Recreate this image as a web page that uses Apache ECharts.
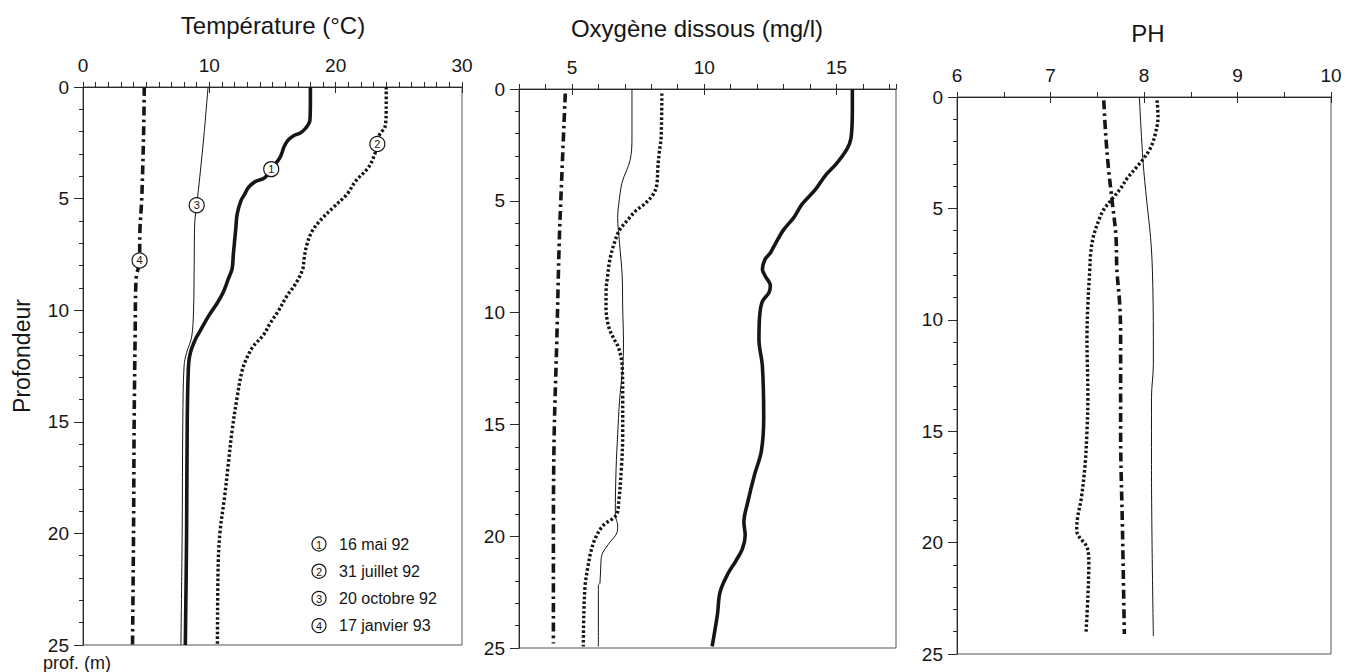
<!DOCTYPE html>
<html><head><meta charset="utf-8">
<script src="https://cdn.jsdelivr.net/npm/echarts@6/dist/echarts.min.js"></script>
<style>html,body{margin:0;padding:0;background:#fff}#c{width:1345px;height:672px}</style>
</head><body><div id="c"></div>
<script>
// ---------- text / labels ----------
const seriesNames = ['16 mai 92', '31 juillet 92', '20 octobre 92', '17 janvier 93'];
const seriesMarks = ['1', '2', '3', '4'];
const panelTitles = ['Température (°C)', 'Oxygène dissous (mg/l)', 'PH'];
const depthTickLabels = [0, 5, 10, 15, 20, 25];
const tempTickLabels = [0, 10, 20, 30];
const oxyTickLabels = [5, 10, 15];
const phTickLabels = [6, 7, 8, 9, 10];

// ---------- data : [value, depth (m)] ----------
const tempMai = [[18.0,0],[18.0,0.6],[17.96,1.5],[17.6,1.86],[17.2,2.06],[16.7,2.17],[16.2,2.4],[15.9,2.7],[15.6,3.15],[14.9,3.68],[14.4,4.06],[13.6,4.25],[13.1,4.5],[12.8,4.8],[12.5,5.1],[12.2,5.7],[12.1,6.3],[11.9,7.5],[11.8,8.15],[11.5,8.6],[11.1,9.2],[10.6,9.7],[9.9,10.3],[9.3,10.9],[8.9,11.3],[8.5,11.9],[8.35,12.5],[8.25,15],[8.2,20],[8.1,25]];
const tempJuillet = [[24.0,0],[24.0,1.0],[23.9,1.8],[23.5,2.1],[23.3,2.55],[23.1,3.0],[22.6,3.6],[21.6,4.2],[20.9,4.8],[19.8,5.4],[18.75,6.0],[18.1,6.5],[17.7,7.1],[17.5,7.7],[17.4,8.15],[16.9,8.75],[16.1,9.4],[15.5,10.0],[14.8,10.6],[14.3,11.1],[13.5,11.6],[13.0,12.1],[12.6,12.7],[12.2,13.9],[11.8,15.4],[11.5,16.9],[11.2,18.4],[10.85,19.9],[10.7,21.4],[10.64,25]];
const tempOctobre = [[9.9,0],[9.6,2],[9.25,4],[9.0,5.3],[8.85,6],[8.8,8],[8.75,10],[8.6,11.2],[8.2,11.9],[8.0,12.5],[7.9,15],[7.85,20],[7.75,25]];
const tempJanvier = [[4.85,0],[4.8,2],[4.65,5],[4.5,6.5],[4.48,7.77],[4.2,8.6],[4.13,11],[4.05,15],[4.0,20],[3.92,25]];
const tempMarkIndex = [9, 4, 3, 4]; // data point carrying the circled number

const oxyMai = [[15.6,0],[15.6,1.0],[15.55,2.19],[15.4,2.68],[15.0,3.34],[14.6,3.84],[14.2,4.5],[13.7,5.15],[13.4,5.73],[13.0,6.3],[12.7,6.9],[12.5,7.33],[12.3,7.62],[12.2,8.06],[12.3,8.35],[12.5,8.8],[12.45,9.1],[12.2,9.5],[12.1,10.1],[12.07,11.2],[12.2,12.4],[12.25,14.7],[12.16,16.2],[11.9,17.26],[11.65,18.46],[11.5,19.37],[11.55,19.97],[11.45,20.54],[11.2,21.1],[10.9,21.67],[10.6,22.5],[10.5,23.5],[10.3,24.93]];
const oxyJuillet = [[8.4,0.2],[8.37,2.19],[8.3,2.85],[8.25,3.5],[8.2,4.34],[8.05,4.75],[7.74,5.15],[7.42,5.44],[7.1,5.87],[6.8,6.31],[6.6,6.9],[6.44,7.6],[6.35,8.35],[6.29,9.08],[6.29,9.8],[6.4,10.67],[6.6,11.2],[6.77,11.6],[6.9,12.4],[6.92,13.9],[6.92,15.45],[6.87,16.96],[6.77,18.46],[6.67,19.07],[6.2,19.5],[5.9,20.05],[5.72,20.68],[5.6,21.4],[5.5,22.2],[5.45,23.5],[5.43,24.93]];
const oxyOctobre = [[7.27,0],[7.27,2.19],[7.2,3.18],[6.9,4.17],[6.77,5.15],[6.73,5.73],[6.8,6.9],[6.9,8.35],[6.92,9.8],[6.95,11.4],[6.92,12.44],[6.8,13.95],[6.73,15.45],[6.67,16.96],[6.64,19.07],[6.73,19.5],[6.7,19.85],[6.45,20.25],[6.16,20.75],[6.1,21.1],[6.06,22.1],[6.0,22.2],[6.0,24.93]];
const oxyJanvier = [[4.75,0.2],[4.62,3.84],[4.52,6.9],[4.43,11.2],[4.33,15.45],[4.3,19.97],[4.3,24.8]];

const phJuillet = [[8.14,0.15],[8.15,0.9],[8.12,1.67],[8.07,2.28],[8.0,2.74],[7.91,3.2],[7.82,3.65],[7.75,4.1],[7.66,4.57],[7.57,5.05],[7.52,5.5],[7.46,6.24],[7.43,7.0],[7.42,7.76],[7.4,9.28],[7.39,10.8],[7.4,13.5],[7.39,15],[7.37,16.5],[7.33,18.0],[7.29,18.87],[7.28,19.46],[7.31,19.76],[7.39,20.2],[7.41,20.95],[7.4,22.4],[7.38,24.0]];
const phOctobre = [[7.95,0],[7.99,2.9],[8.03,4.7],[8.07,6.3],[8.09,7.8],[8.1,10.8],[8.1,12],[8.08,13.5],[8.08,16.5],[8.1,24.2]];
const phJanvier = [[7.57,0.15],[7.59,1.67],[7.62,3.2],[7.66,4.7],[7.7,6.24],[7.71,7.76],[7.74,9.28],[7.75,10.8],[7.75,15],[7.77,19.46],[7.79,24.1]];

// ---------- styling ----------
const FONT = '"Liberation Sans", Arial, Helvetica, sans-serif';
const INK = '#161616';
const AX = '#2a2a2a';
const lineStyles = [
  { width: 3.6, type: 'solid' },
  { width: 3.4, type: [2.6, 2.2] },
  { width: 1, type: 'solid' },
  { width: 3.6, type: [9, 4, 2.6, 4] }
];

const panels = [
  { grid: { left: 83, top: 87, width: 379, height: 558 }, min: 0, max: 30, step: 1, labels: tempTickLabels,
    series: [tempMai, tempJuillet, tempOctobre, tempJanvier], marks: true },
  { grid: { left: 519, top: 89, width: 377, height: 559 }, min: 3, max: 17.25, step: 1, labels: oxyTickLabels,
    series: [oxyMai, oxyJuillet, oxyOctobre, oxyJanvier] },
  { grid: { left: 957, top: 97, width: 374, height: 557 }, min: 6, max: 10, step: 0.5, labels: phTickLabels,
    series: [null, phJuillet, phOctobre, phJanvier] }
];

const grids = [], xAxes = [], yAxes = [], series = [];
panels.forEach((p, gi) => {
  grids.push(Object.assign({ show: true, borderColor: '#555', borderWidth: 1, backgroundColor: 'transparent' }, p.grid));
  const axLine = { show: true, onZero: false, lineStyle: { color: AX, width: 1 } };
  // x: minor ticks (every step)
  xAxes.push({ gridIndex: gi, type: 'value', position: 'top', min: p.min, max: p.max, interval: p.step,
    axisLine: axLine, splitLine: { show: false }, axisLabel: { show: false },
    axisTick: { show: true, length: 5, lineStyle: { color: AX, width: 1 } } });
  // x: labels and major ticks crossing the axis line
  xAxes.push({ gridIndex: gi, type: 'value', position: 'top', min: p.min, max: p.max,
    axisLine: { show: false, onZero: false }, splitLine: { show: false },
    axisTick: { show: true, inside: true, customValues: p.labels, length: 6, lineStyle: { color: AX, width: 1 } },
    axisLabel: { show: true, customValues: p.labels, fontSize: 19, fontFamily: FONT, color: INK, margin: 12 } });
  // y: minor ticks (every metre)
  yAxes.push({ gridIndex: gi, type: 'value', inverse: true, min: 0, max: 25, interval: 1, position: 'left',
    axisLine: axLine, splitLine: { show: false }, axisLabel: { show: false },
    axisTick: { show: true, length: 4, lineStyle: { color: AX, width: 1 } } });
  // y: labels and longer major ticks
  yAxes.push({ gridIndex: gi, type: 'value', inverse: true, min: 0, max: 25, position: 'left',
    axisLine: { show: false, onZero: false }, splitLine: { show: false },
    axisTick: { show: true, customValues: depthTickLabels, length: 9, lineStyle: { color: AX, width: 1 } },
    axisLabel: { show: true, customValues: depthTickLabels, fontSize: 19, fontFamily: FONT, color: INK, margin: 14 } });

  p.series.forEach((data, si) => {
    if (!data) return;
    const s = {
      name: seriesNames[si], type: 'line', xAxisIndex: gi * 2, yAxisIndex: gi * 2,
      data: data, showSymbol: false, smooth: 0.35, animation: false, silent: true,
      lineStyle: Object.assign({ color: INK, cap: 'butt', join: 'round' }, lineStyles[si]), z: 3
    };
    if (p.marks) {
      s.markPoint = { silent: true, animation: false, symbol: 'circle', symbolSize: 15,
        itemStyle: { color: '#fff', borderColor: INK, borderWidth: 1.2 },
        label: { show: true, position: 'inside', formatter: seriesMarks[si], color: INK, fontSize: 11, fontFamily: FONT },
        data: [{ coord: data[tempMarkIndex[si]] }] };
    }
    series.push(s);
  });
});

// ---------- free texts ----------
const graphic = [];
const titlePos = [[273, 25], [697, 28], [1148, 33]];
panelTitles.forEach((t, i) => graphic.push({ type: 'text', x: titlePos[i][0], y: titlePos[i][1], silent: true,
  style: { text: t, font: '24px ' + FONT, fill: INK, align: 'center', verticalAlign: 'middle', textAlign: 'center', textVerticalAlign: 'middle' } }));
graphic.push({ type: 'text', x: 22, y: 356, rotation: Math.PI / 2, silent: true,
  style: { text: 'Profondeur', font: '23px ' + FONT, fill: INK, align: 'center', verticalAlign: 'middle', textAlign: 'center', textVerticalAlign: 'middle' } });
graphic.push({ type: 'text', x: 43, y: 663, silent: true,
  style: { text: 'prof. (m)', font: '18px ' + FONT, fill: INK, align: 'left', verticalAlign: 'middle', textAlign: 'left', textVerticalAlign: 'middle' } });
// legend
seriesNames.forEach((n, i) => {
  const y = 544 + i * 27.2;
  graphic.push({ type: 'circle', x: 319, y: y, silent: true, shape: { cx: 0, cy: 0, r: 7 }, style: { fill: '#fff', stroke: INK, lineWidth: 1.2 } });
  graphic.push({ type: 'text', x: 319, y: y + 0.5, silent: true, style: { text: seriesMarks[i], font: '11px ' + FONT, fill: INK, align: 'center', verticalAlign: 'middle', textAlign: 'center', textVerticalAlign: 'middle' } });
  graphic.push({ type: 'text', x: 339, y: y, silent: true, style: { text: n, font: '16px ' + FONT, fill: INK, align: 'left', verticalAlign: 'middle', textAlign: 'left', textVerticalAlign: 'middle' } });
});

const chart = echarts.init(document.getElementById('c'), null, { renderer: 'svg' });
chart.setOption({
  animation: false,
  backgroundColor: '#fff',
  grid: grids, xAxis: xAxes, yAxis: yAxes, series: series, graphic: graphic
});
</script></body></html>
